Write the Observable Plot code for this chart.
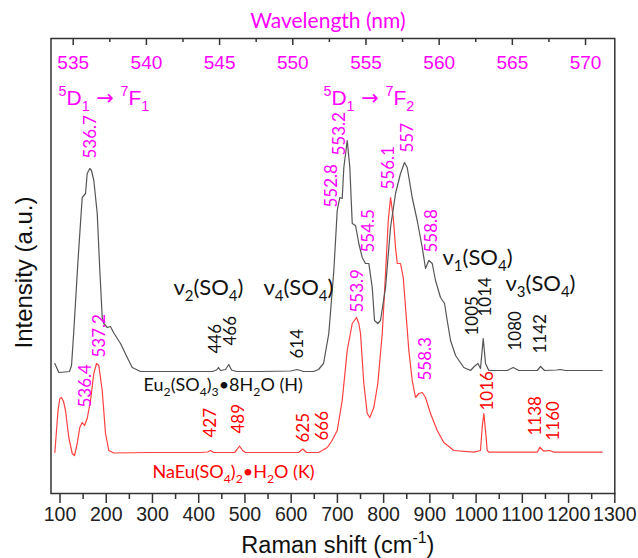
<!DOCTYPE html>
<html><head><meta charset="utf-8">
<script src="https://cdn.jsdelivr.net/npm/d3@7"></script>
<script src="https://cdn.jsdelivr.net/npm/@observablehq/plot@0.6"></script>
<style>body{margin:0;background:#fff}#chart{width:638px;height:558px}</style>
</head><body><div id="chart"></div>
<script>
// Raman shift (cm-1), intensity (a.u.)
const grayData = [[88.8,130],[97.4,121],[109.7,121.5],[120.5,122],[124.9,128],[129.9,163],[138.9,233],[148,296],[155.2,300],[158.8,320],[164.5,325],[168.1,323],[173.1,313],[180.5,280],[186.1,223],[191.3,176],[194.7,170],[202.1,166],[209.2,167],[215.7,161],[230.9,150],[245.4,136],[256.2,126],[274.1,122],[317.4,122],[382.3,122],[429.9,122],[438.5,123.5],[442.8,126],[447.1,123],[458,124],[465.1,129],[471,123.5],[481.8,122],[533.7,122],[598.6,122.5],[613.1,124],[626.7,122],[648.3,122],[659.2,124],[670,130],[681.4,160],[692.3,223],[699.6,283],[705.2,296],[710.4,295],[713.9,326],[721.2,353],[726.9,326],[729.9,293],[732.1,270],[739.2,268],[746.3,250],[753.7,236],[760.8,230],[768,230],[775.3,206],[780.3,173],[787.4,170],[793.2,173],[804.1,206],[814.9,266],[825.7,300],[836.5,320],[845.2,331],[851,326],[861.8,296],[872.6,273],[883.5,246],[890.6,225],[897.7,233],[905.1,230],[912.2,213],[923,196],[931.7,190],[937.5,173],[944.7,153],[955.5,138],[973.4,126],[987.9,123],[996,127],[1004,130],[1009.5,125],[1015.4,155],[1020.4,130],[1027.5,123],[1067.3,123],[1080.3,126],[1092.4,123],[1132.2,123],[1139.4,127],[1148,123],[1174,123.5],[1182.6,124],[1193.4,123],[1272.8,123]];
const redData = [[88.8,41],[92.4,63],[95.7,83],[99.6,95],[103.2,96],[107.6,92],[111.9,83],[119,56],[126.4,40],[131.4,38],[137.2,50],[142.8,66],[148,71],[153,68],[158.8,75],[166,93],[173.1,120],[179,130],[183.9,128],[191.3,103],[198.4,60],[205.6,43],[216.4,40.5],[295.8,41],[403.9,41],[419,41.5],[425.5,43],[432,41],[477.5,41],[482.9,44],[488.3,47.5],[494.8,43],[501.3,41],[616,41],[625.2,44.5],[633.2,41],[659.2,41],[667.2,43],[678,46],[687.3,52],[699.6,63],[710.4,93],[721.2,143],[732.1,170],[741.4,176],[746.3,170],[750,160],[757.1,110],[764.5,80],[770.1,76],[778.8,86],[787.4,110],[797,160],[804.1,220],[810,273],[815,296],[820.8,276],[825.7,246],[829.5,230],[836.5,230],[842.4,216],[847.4,186],[854.5,143],[861.8,113],[869,96],[876.1,100],[883.5,101],[890.6,96],[901.4,80],[915.9,63],[930.2,51],[951.8,43],[995.1,41.3],[1009.5,43],[1013.2,66],[1016.7,80],[1021,60],[1024,43],[1027.5,41.3],[1132.2,41.3],[1137.8,46.3],[1146.5,42.3],[1159.5,43],[1168.2,41.3],[1272.8,41.3]];

const xTicks = [100,200,300,400,500,600,700,800,900,1000,1100,1200,1300];
const xMinor = [150,250,350,450,550,650,750,850,950,1050,1150,1250];
const wlTicks = [535,540,545,550,555,560,565,570];
const wlMinor = [537.5,542.5,547.5,552.5,557.5,562.5,567.5];

// peak labels: [text, x (cm-1), y (a.u.)]
const magentaPeaks = [["536.7",166,335],["552.8",686.6,286],["553.2",704.6,338],["557",851,341],["556.1",809.9,304],["554.5",767.3,241],["558.8",903.6,241],["553.9",743.5,181],["558.3",890.6,113],["536.4",155.2,86],["537.2",185.4,136]];
const blackPeaks = [["446",436.4,140],["466",468.8,148],["614",613.1,135],["1005",991.6,158],["1014",1020.4,177],["1080",1085.3,143],["1142",1139.4,140]];
const redPeaks = [["427",425.5,56],["489",486,60],["625",626.7,51],["666",667.8,53],["1016",1024,83],["1138",1128.5,58],["1160",1167.5,53]];
const modeLabels = [["ν_2(SO_4)",345.3,206],["ν_4(SO_4)",540,206],["ν_1(SO_4)",927.4,236],["ν_3(SO_4)",1063.6,210]];
const transLabels = [["^5D_1 → ^7F_1",96.8,395],["^5D_1 → ^7F_2",669.9,395]];
const sampleLabels = [["Eu_2(SO_4)_3•8H_2O (H)",280.6,108,"#111"],["NaEu(SO_4)_2•H_2O (K)",300,21,"#ff0000"]];

// top axis: wavelength (nm) placed against Raman shift
const wl = d3.scaleLinear().domain([535,570]).range([128.55,1236.7]);

const ann = "Lato, 'Open Sans', sans-serif";
const ax = "'Liberation Sans', Arial, sans-serif";
const rot = (data, fill) => Plot.text(data, {x: d=>d[1], y: d=>d[2], text: d=>d[0], rotate: -90, textAnchor: "start", lineAnchor: "middle", fill, fontSize: 17, fontFamily: ann});

const chart = Plot.plot({
  width: 638, height: 558,
  marginLeft: 50.5, marginRight: 23.7, marginTop: 38, marginBottom: 65,
  style: {fontFamily: ax, background: "white", overflow: "visible"},
  x: {domain: [80.5,1300], axis: null},
  y: {domain: [0,455], axis: null},
  marks: [
    Plot.line(redData, {x: d=>d[0], y: d=>d[1], stroke: "#ff4040", strokeWidth: 1.2}),
    Plot.line(grayData, {x: d=>d[0], y: d=>d[1], stroke: "#555", strokeWidth: 1.2}),
    Plot.frame({stroke: "#333", strokeWidth: 1.5}),
    Plot.axisX(xTicks, {anchor: "bottom", tickSize: 10, tickPadding: 4, fontSize: 19.5, tickFormat: d => String(d), fill: "#222", stroke: "#333", strokeWidth: 1.5, label: null}),
    Plot.axisX(xMinor, {anchor: "bottom", tickSize: 6, tickFormat: () => "", stroke: "#333", strokeWidth: 1.5, label: null}),
    Plot.tickX(wlTicks, {x: d=>wl(d), insetBottom: 448, stroke: "#333", strokeWidth: 1.5}),
    Plot.tickX(wlMinor, {x: d=>wl(d), insetBottom: 451, stroke: "#333", strokeWidth: 1.5}),
    Plot.text(wlTicks, {x: d=>wl(d), frameAnchor: "top", lineAnchor: "middle", dy: 24, text: d=>String(d), fill: "#ff00ff", fontSize: 19, fontFamily: ax}),
    Plot.text(["Wavelength (nm)"], {frameAnchor: "top", textAnchor: "middle", lineAnchor: "middle", dx: -5, dy: -17, fill: "#ff00ff", fontSize: 21, fontFamily: ann}),
    Plot.text(["Raman shift (cm^{-1})"], {frameAnchor: "bottom", textAnchor: "middle", lineAnchor: "middle", dx: 5, dy: 51.5, fill: "#111", fontSize: 23.5, fontFamily: ax}),
    Plot.text(["Intensity (a.u.)"], {frameAnchor: "left", textAnchor: "middle", lineAnchor: "middle", rotate: -90, dx: -27, dy: 6.5, fill: "#111", fontSize: 24, fontFamily: ax}),
    rot(magentaPeaks, "#ff00ff"),
    rot(blackPeaks, "#111"),
    rot(redPeaks, "#ff0000"),
    Plot.text(modeLabels, {x: d=>d[1], y: d=>d[2], text: d=>d[0], textAnchor: "start", fill: "#111", fontSize: 22, fontFamily: ann}),
    Plot.text(transLabels, {x: d=>d[1], y: d=>d[2], text: d=>d[0], textAnchor: "start", fill: "#ff00ff", fontSize: 21, fontFamily: ax}),
    Plot.text(sampleLabels, {x: d=>d[1], y: d=>d[2], text: d=>d[0], textAnchor: "start", fill: d=>d[3], fontSize: 18, fontFamily: ann})
  ]
});
document.getElementById("chart").appendChild(chart);

// render _x as subscript and ^x as superscript; long arrow from DejaVu
chart.querySelectorAll("text").forEach(t => {
  const s = t.textContent;
  if (!/[_^]/.test(s) || t.querySelector("tspan")) return;
  const fs = parseFloat(getComputedStyle(t).fontSize);
  const parts = []; let last = 0, m; const re = /([_^])(\{[^}]*\}|.)/g;
  while ((m = re.exec(s))) {
    if (m.index > last) parts.push([s.slice(last, m.index), 0]);
    let v = m[2]; if (v[0] === "{") v = v.slice(1, -1);
    parts.push([v, m[1] === "_" ? 1 : -1]);
    last = re.lastIndex;
  }
  if (last < s.length) parts.push([s.slice(last), 0]);
  t.textContent = "";
  let cur = 0;
  for (const [txt, k] of parts) {
    const ts = document.createElementNS("http://www.w3.org/2000/svg", "tspan");
    const off = k === 1 ? 0.28 * fs : k === -1 ? -0.42 * fs : 0;
    if (off !== cur) ts.setAttribute("dy", off - cur);
    if (k !== 0) ts.setAttribute("font-size", 0.68 * fs);
    if (txt.includes("→")) ts.setAttribute("font-family", "'DejaVu Sans', sans-serif");
    cur = off;
    ts.textContent = txt;
    t.appendChild(ts);
  }
});
</script></body></html>
